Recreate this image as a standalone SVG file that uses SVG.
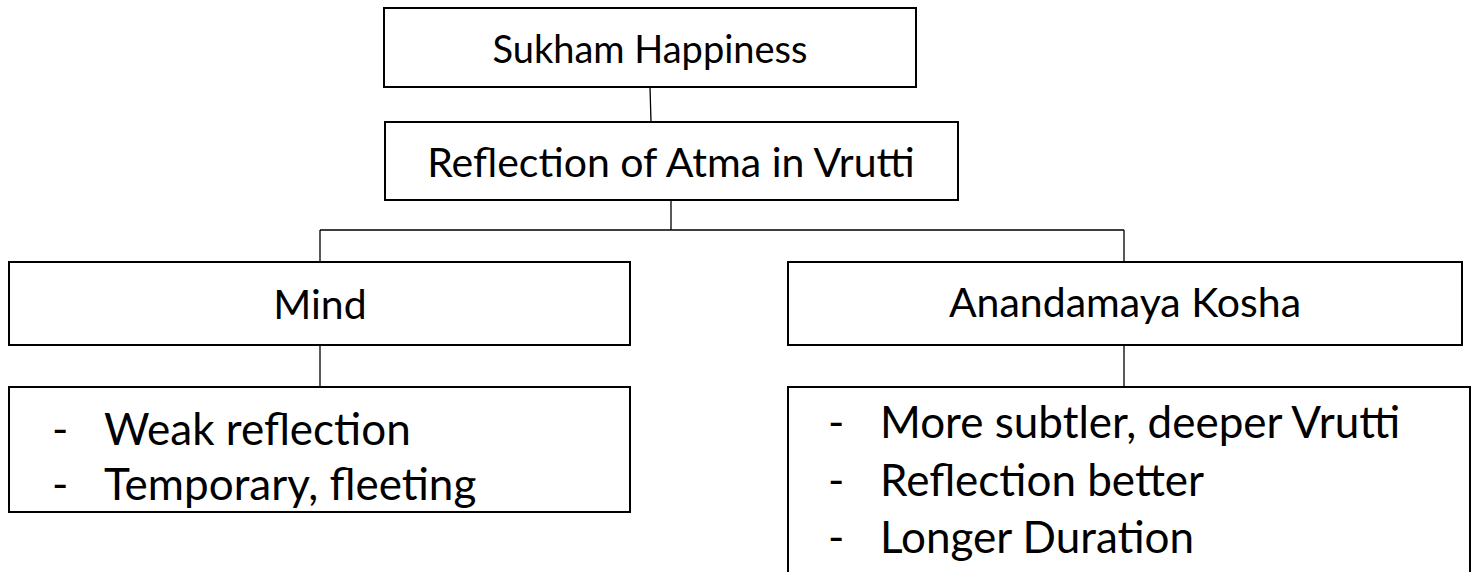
<svg xmlns="http://www.w3.org/2000/svg" width="1472" height="572" viewBox="0 0 1472 572">
  <style>
    .box { fill: #ffffff; stroke: #000000; stroke-width: 2; }
    .link { fill: none; stroke: #000000; stroke-width: 1.3; }
    .title { font-family: Lato, "Liberation Sans", sans-serif; font-size: 41px; fill: #000000; text-anchor: middle; }
    .item { font-family: Lato, "Liberation Sans", sans-serif; font-size: 44px; fill: #000000; }
  </style>
  <rect width="1472" height="572" fill="#ffffff"/>

  <!-- tree connectors -->
  <g id="connectors">
    <line class="link" x1="650" y1="87" x2="651" y2="122"/>
    <path class="link" d="M671,200 V230 M320,230 H1124 M320,230 V262 M1124,230 V262"/>
    <line class="link" x1="320" y1="345" x2="320" y2="387"/>
    <line class="link" x1="1124" y1="345" x2="1124" y2="387"/>
  </g>

  <g id="sukham">
    <rect class="box" x="384" y="8" width="532" height="79"/>
    <text class="title" x="650" y="63" style="font-size:38px">Sukham Happiness</text>
  </g>

  <g id="reflection">
    <rect class="box" x="385" y="122" width="573" height="78"/>
    <text class="title" x="671" y="177">Reflection of Atma in Vrutti</text>
  </g>

  <g id="mind">
    <rect class="box" x="9" y="262" width="621" height="83"/>
    <text class="title" x="320" y="319">Mind</text>
  </g>

  <g id="anandamaya">
    <rect class="box" x="788" y="262" width="674" height="83"/>
    <text class="title" x="1125" y="317">Anandamaya Kosha</text>
  </g>

  <g id="mind-notes">
    <rect class="box" x="9" y="387" width="621" height="125"/>
    <text class="item" x="52" y="445">-</text>
    <text class="item" x="104" y="445">Weak reflection</text>
    <text class="item" x="52" y="500">-</text>
    <text class="item" x="104" y="500">Temporary, fleeting</text>
  </g>

  <g id="anandamaya-notes">
    <rect class="box" x="788" y="387" width="682" height="200"/>
    <text class="item" x="828" y="438">-</text>
    <text class="item" x="880" y="438">More subtler, deeper Vrutti</text>
    <text class="item" x="828" y="496">-</text>
    <text class="item" x="880" y="496">Reflection better</text>
    <text class="item" x="828" y="553">-</text>
    <text class="item" x="880" y="553">Longer Duration</text>
  </g>
</svg>
